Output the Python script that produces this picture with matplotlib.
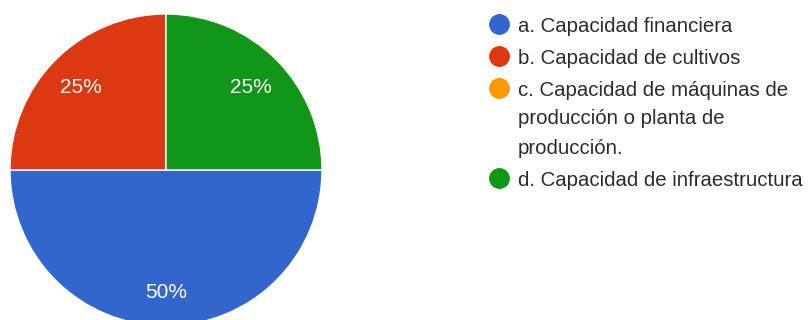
import matplotlib.pyplot as plt

labels = ["a. Capacidad financiera",
          "b. Capacidad de cultivos",
          "c. Capacidad de máquinas de\nproducción o planta de\nproducción.",
          "d. Capacidad de infraestructura"]
values = [50, 25, 0, 25]
colors = ["#3366CC", "#DC3912", "#FF9900", "#109618"]

W, H = 811, 320
fig = plt.figure(figsize=(W / 100, H / 100), dpi=100)
plt.rcParams["font.family"] = ["Liberation Sans", "DejaVu Sans"]

# pie axes: centre (166, 170) px from top-left, radius 156 px
cx, cy, r = 166, 170, 156
ax = fig.add_axes([(cx - r) / W, (H - cy - r) / H, 2 * r / W, 2 * r / H])
ax.axis("off")

wedges, texts, autotexts = ax.pie(
    values, colors=colors, startangle=0, counterclock=False, radius=1,
    autopct=lambda p: f"{p:.0f}%" if p > 0 else "",
    pctdistance=0.77,
    wedgeprops=dict(edgecolor="white", linewidth=1),
    textprops=dict(color="white", fontsize=15))
for t in autotexts:
    t.set_va("center_baseline")
ax.set_xlim(-1, 1)
ax.set_ylim(-1, 1)
ax.set_aspect("equal")

# legend drawn on an overlay in pixel coords
lg = fig.add_axes([0, 0, 1, 1])
lg.set_xlim(0, W)
lg.set_ylim(H, 0)
lg.axis("off")
y = 24
for lab, col in zip(labels, colors):
    lg.plot(499, y, "o", ms=14, color=col, mec=col)
    lines = lab.split("\n")
    for i, line in enumerate(lines):
        lg.text(518, y + 29 * i, line, fontsize=14.7, color="#2b2b2b",
                va="center_baseline")
    y += 29 * (len(lines) - 1) + 32

fig.savefig("out.png", dpi=100)
